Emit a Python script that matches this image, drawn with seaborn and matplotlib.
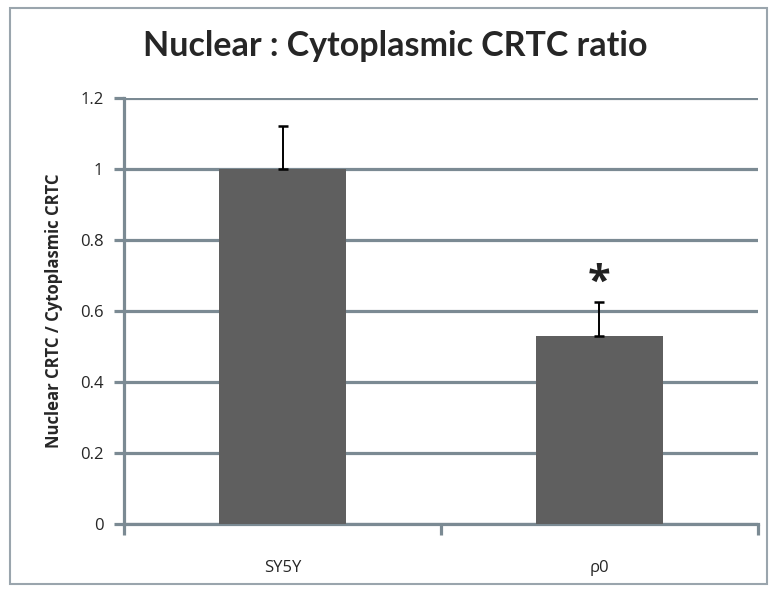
import matplotlib
matplotlib.use("Agg")
import matplotlib.pyplot as plt
import seaborn as sns
from matplotlib.patches import Rectangle

# Values
categories = ["SY5Y", "ρ0"]
ratios = [1.0, 0.53]
sem_upper = [0.12, 0.095]
significance = ["", "*"]
yticks = [0, 0.2, 0.4, 0.6, 0.8, 1, 1.2]
ytick_labels = ["0", "0.2", "0.4", "0.6", "0.8", "1", "1.2"]

sns.set_style("white")
plt.rcParams["font.family"] = ["Open Sans", "DejaVu Sans"]

line_gray = "#7b8a93"
bar_gray = "#5f5f5f"

fig = plt.figure(figsize=(7.71, 5.91), dpi=100)
ax = fig.add_axes([0.161, 0.1134, 0.822, 0.7206])

sns.barplot(x=categories, y=ratios, color=bar_gray, width=0.4, ax=ax,
            saturation=1, linewidth=0, zorder=3)
ax.errorbar(x=range(len(categories)), y=ratios,
            yerr=[[0] * len(sem_upper), sem_upper], fmt="none",
            ecolor="black", elinewidth=1.4, capsize=3.5, capthick=1.8, zorder=4)

# significance marker above the error bar
for i, (r, e, s) in enumerate(zip(ratios, sem_upper, significance)):
    if s:
        ax.text(i, r + e - 0.005, s, ha="center", va="bottom",
                fontsize=30, fontweight="bold", color="#222222")

ax.set_ylim(0, 1.2)
ax.set_xlim(-0.5, 1.5)
ax.set_yticks(yticks)
ax.set_yticklabels(ytick_labels, fontsize=12)
ax.yaxis.grid(True, color=line_gray, linewidth=2.3)
ax.set_axisbelow(True)

for side in ["top", "right"]:
    ax.spines[side].set_visible(False)
for side in ["left", "bottom"]:
    ax.spines[side].set_color(line_gray)
    ax.spines[side].set_linewidth(2.3)

ax.tick_params(axis="y", which="major", length=7, width=2.3, color=line_gray,
               direction="out", left=True, pad=8)
ax.tick_params(axis="x", which="major", length=0, labelsize=12, pad=26)
ax.set_xticks([-0.5, 0.5, 1.5], minor=True)
ax.tick_params(axis="x", which="minor", length=8, width=2.3, color=line_gray,
               direction="out", bottom=True)

ax.set_ylabel("Nuclear CRTC / Cytoplasmic CRTC", fontsize=12,
              fontweight="bold", labelpad=12)
fig.text(0.512, 0.922, "Nuclear : Cytoplasmic CRTC ratio", ha="center",
         va="center", fontsize=24.5, fontweight="bold", family=["Lato", "DejaVu Sans"])

# outer frame like the exported chart area
fig.patches.append(Rectangle((0.013, 0.012), 0.982, 0.974,
                             transform=fig.transFigure, fill=False,
                             edgecolor="#9aa5ad", linewidth=1.5))

fig.savefig("out.png", dpi=100)
